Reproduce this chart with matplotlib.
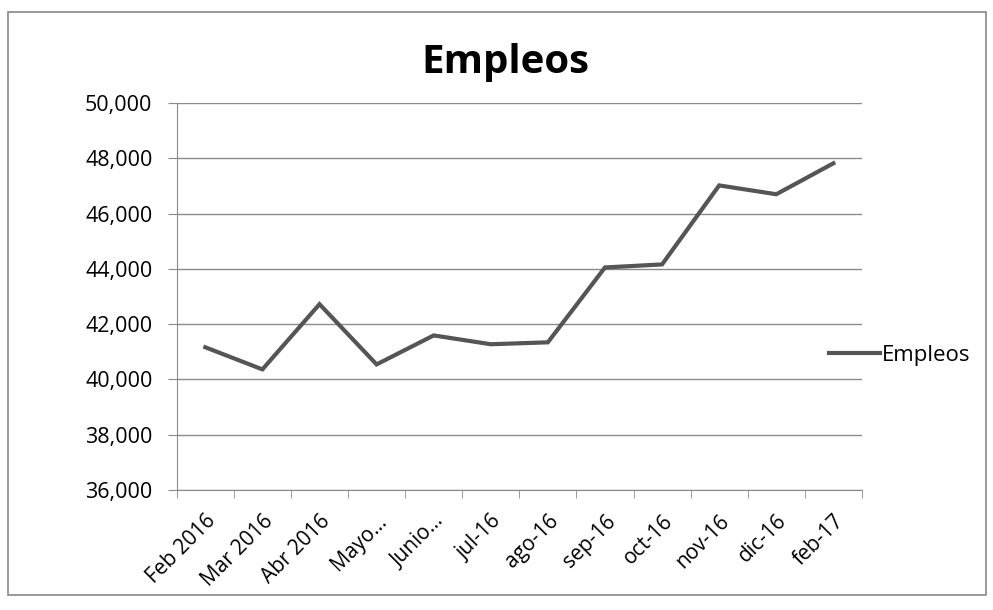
import matplotlib.pyplot as plt
from matplotlib.patches import Rectangle
from matplotlib.ticker import FuncFormatter, FixedLocator

meses = ['Feb 2016', 'Mar 2016', 'Abr 2016', 'Mayo...', 'Junio...', 'jul-16',
         'ago-16', 'sep-16', 'oct-16', 'nov-16', 'dic-16', 'feb-17']
empleos = [41160, 40360, 42720, 40540, 41590, 41270,
           41340, 44050, 44160, 47020, 46700, 47820]

plt.rcParams['font.family'] = ['Open Sans', 'DejaVu Sans']

fig = plt.figure(figsize=(9.93, 6.10), dpi=100)
ax = fig.add_axes([0.178, 0.197, 0.690, 0.634])

x = list(range(len(meses)))
ax.plot(x, empleos, color='#555555', lw=3, label='Empleos', solid_joinstyle='miter')

ax.set_xlim(-0.5, len(meses) - 0.5)
ax.set_ylim(36000, 50000)
ax.set_yticks(range(36000, 50001, 2000))
ax.yaxis.set_major_formatter(FuncFormatter(lambda v, p: f'{int(v):,}'))
ax.grid(axis='y', color='#8a8a8a', lw=1)
ax.set_axisbelow(True)

ax.set_xticks(x)
ax.set_xticklabels(meses, rotation=45, ha='right', rotation_mode='anchor', fontsize=15)
ax.xaxis.set_minor_locator(FixedLocator([i - 0.5 for i in range(len(meses) + 1)]))
ax.tick_params(axis='x', which='major', length=0, pad=15)
ax.tick_params(axis='x', which='minor', length=6, color='#8a8a8a')
ax.tick_params(axis='y', length=6.5, color='#8a8a8a', labelsize=15.5, pad=11)

for s in ['top', 'right']:
    ax.spines[s].set_visible(False)
for s in ['left', 'bottom']:
    ax.spines[s].set_color('#8a8a8a')

fig.text(0.509, 0.898, 'Empleos', ha='center', va='center', fontsize=29, fontweight='bold')

leg = ax.legend(loc='center left', bbox_to_anchor=(0.815, 0.418), bbox_transform=fig.transFigure,
                frameon=False, fontsize=16, handlelength=2.3, handletextpad=0.05)

fig.patches.append(Rectangle((0.008, 0.025), 0.985, 0.955, transform=fig.transFigure,
                             fill=False, edgecolor='#888888', lw=1.2))

fig.savefig('out.png', dpi=100)
